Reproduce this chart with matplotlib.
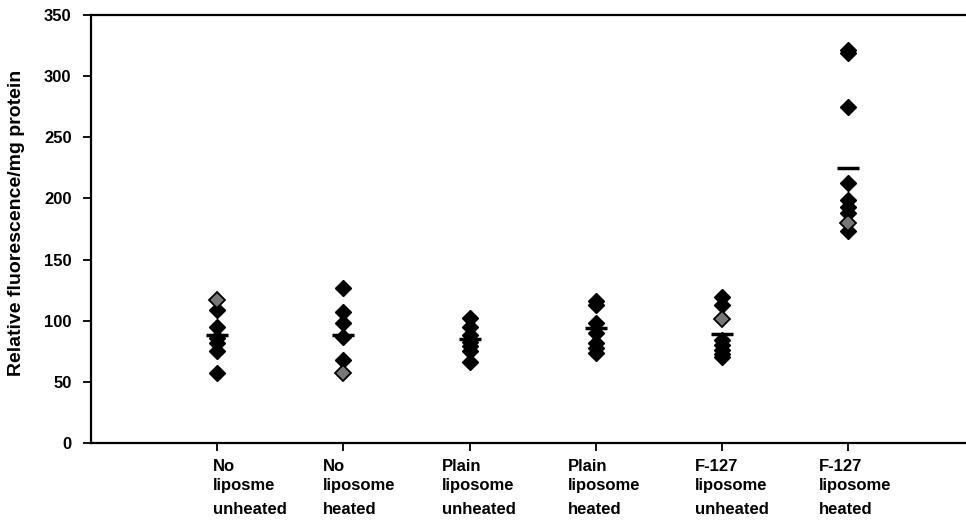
import matplotlib
matplotlib.use('Agg')
import matplotlib.pyplot as plt
from matplotlib import transforms

plt.rcParams['font.family'] = ['Liberation Sans', 'DejaVu Sans']
plt.rcParams['font.weight'] = 'bold'

# category labels, one list of lines per group
labels = [
    ['No', 'liposme', 'unheated'],
    ['No', 'liposome', 'heated'],
    ['Plain', 'liposome', 'unheated'],
    ['Plain', 'liposome', 'heated'],
    ['F-127', 'liposome', 'unheated'],
    ['F-127', 'liposome', 'heated'],
]

no_lip_unheated = [109, 95, 86, 82, 75, 57]
no_lip_heated = [127, 107, 98, 87, 68]
plain_unheated = [102, 95, 88, 83, 79, 75, 66]
plain_heated = [116, 113, 98, 90, 82, 78, 74]
f127_unheated = [119, 113, 84, 80, 76, 73, 70]
f127_heated = [321, 319, 275, 213, 199, 193, 188, 173]

# overlapping (shaded) diamonds: group number and value
shaded_grp = [1, 2, 5, 6]
shaded_val = [117, 57, 101, 180]

# group means (horizontal bars)
means = [88, 88, 85, 94, 89, 225]

yticks = [0, 50, 100, 150, 200, 250, 300, 350]
ylabel = 'Relative fluorescence/mg protein'

groups = [no_lip_unheated, no_lip_heated, plain_unheated,
          plain_heated, f127_unheated, f127_heated]

W, H = 966, 520
fig = plt.figure(figsize=(W / 100, H / 100), dpi=100)
ax = fig.add_axes([91 / W, 77 / H, (W - 91) / W, 428 / H])

for i, vals in enumerate(groups):
    ax.plot([i + 1] * len(vals), vals, linestyle='none', marker='D',
            ms=8.5, color='black', mec='black')

ax.plot(shaded_grp, shaded_val, linestyle='none', marker='D', ms=8.5,
        mfc='#777777', mec='black', mew=1.3)

ax.plot(range(1, len(means) + 1), means, linestyle='none', marker='_',
        ms=16, mew=2.5, color='black')

ax.set_xlim(0, 6.935)
ax.set_ylim(0, 350)
ax.set_yticks(yticks)
ax.set_xticks(range(1, len(labels) + 1))
ax.set_xticklabels([])
ax.tick_params(axis='both', direction='out', length=6, width=1.3,
               color='black')
ax.tick_params(axis='y', labelsize=12, pad=8)

for side in ['left', 'bottom', 'top']:
    ax.spines[side].set_linewidth(1.6)
ax.spines['right'].set_visible(False)

# x labels, Excel-style wrapped text below the ticks
shift = [-4, -20, -28, -28, -27, -29]
baselines = [471, 490, 514]
base = transforms.blended_transform_factory(ax.transData, fig.transFigure)
for i, lines in enumerate(labels):
    tr = transforms.offset_copy(base, fig=fig, x=shift[i], units='dots')
    for j, line in enumerate(lines):
        ax.text(i + 1, 1 - baselines[j] / H, line, transform=tr,
                ha='left', va='baseline', fontsize=12, fontweight='bold')

fig.text(17 / W, 1 - 223 / H, ylabel, rotation=90, ha='center',
         va='center', fontsize=14, fontweight='bold')

fig.savefig('out.png', dpi=100)
